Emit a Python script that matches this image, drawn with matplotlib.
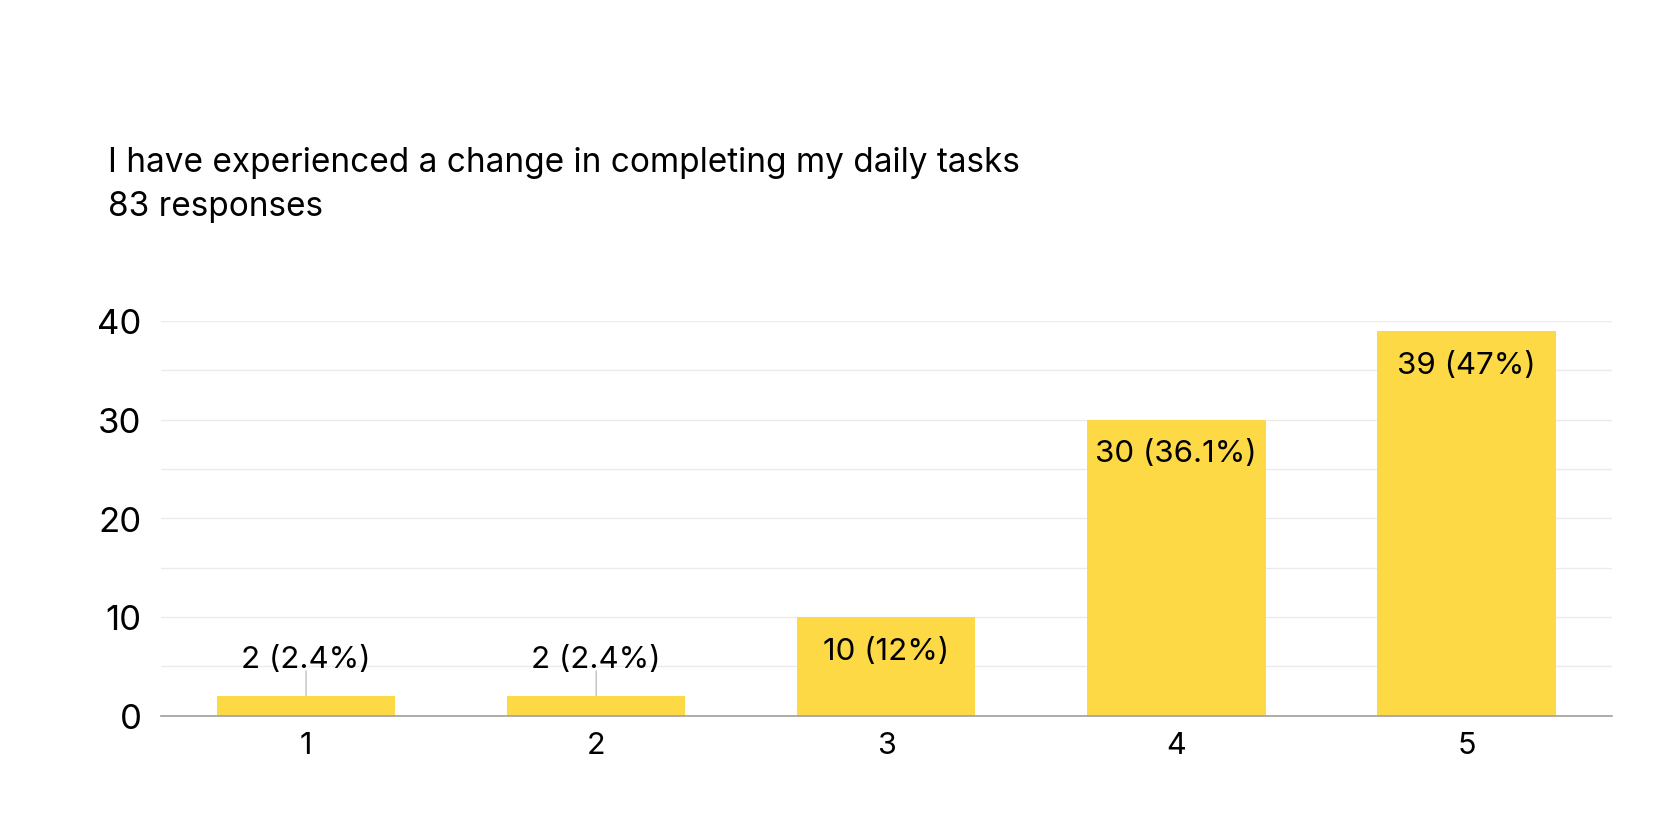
import matplotlib
matplotlib.use("Agg")
import matplotlib.pyplot as plt
from matplotlib.ticker import MultipleLocator

categories = ["1", "2", "3", "4", "5"]
counts = [2, 2, 10, 30, 39]
labels = ["2 (2.4%)", "2 (2.4%)", "10 (12%)", "30 (36.1%)", "39 (47%)"]
title = "I have experienced a change in completing my daily tasks"
subtitle = "83 responses"

plt.rcParams['font.family'] = ['Inter', 'DejaVu Sans']
BAR = '#FDDA45'

fig = plt.figure(figsize=(16.67, 8.2), dpi=100)
ax = fig.add_axes([161/1667, 1 - 716.5/820, (1611.5-161)/1667, (716.5-322)/820])

x = list(range(len(categories)))
ax.bar(x, counts, width=0.615, color=BAR, zorder=3)
ax.set_xlim(-0.5, len(categories) - 0.5)
ax.set_ylim(0, 40)
ax.yaxis.set_major_locator(MultipleLocator(10))
ax.yaxis.set_minor_locator(MultipleLocator(5))
ax.grid(axis='y', which='both', color='#ebebeb', linewidth=1, zorder=0)
ax.set_xticks(x)
ax.set_xticklabels(categories)
ax.tick_params(axis='both', which='both', length=0, colors='black')
ax.tick_params(axis='x', labelsize=22, pad=11)
ax.tick_params(axis='y', labelsize=25, pad=14)
for s in ['top', 'right', 'left']:
    ax.spines[s].set_visible(False)
ax.spines['bottom'].set_color('#9e9e9e')
ax.spines['bottom'].set_linewidth(1.2)
ax.spines['bottom'].set_zorder(4)

for xi, c, lab in zip(x, counts, labels):
    if c >= 5:
        ax.annotate(lab, (xi, c), xytext=(0, -30), textcoords='offset points',
                    ha='center', va='baseline', fontsize=22.5, color='black', zorder=5)
    else:
        ax.annotate(lab, (xi, c), xytext=(0, 21), textcoords='offset points',
                    ha='center', va='baseline', fontsize=22.5, color='black', zorder=5)
        ax.annotate('', (xi, c), xytext=(0, 18), textcoords='offset points',
                    arrowprops=dict(arrowstyle='-', color='#b0b0b0', lw=0.8,
                                    shrinkA=0, shrinkB=0), zorder=5)

fig.text(108/1667, 1 - 171.7/820, title, fontsize=24, va='baseline', ha='left')
fig.text(108/1667, 1 - 216/820, subtitle, fontsize=24, va='baseline', ha='left')

fig.savefig("out.png", dpi=100)
